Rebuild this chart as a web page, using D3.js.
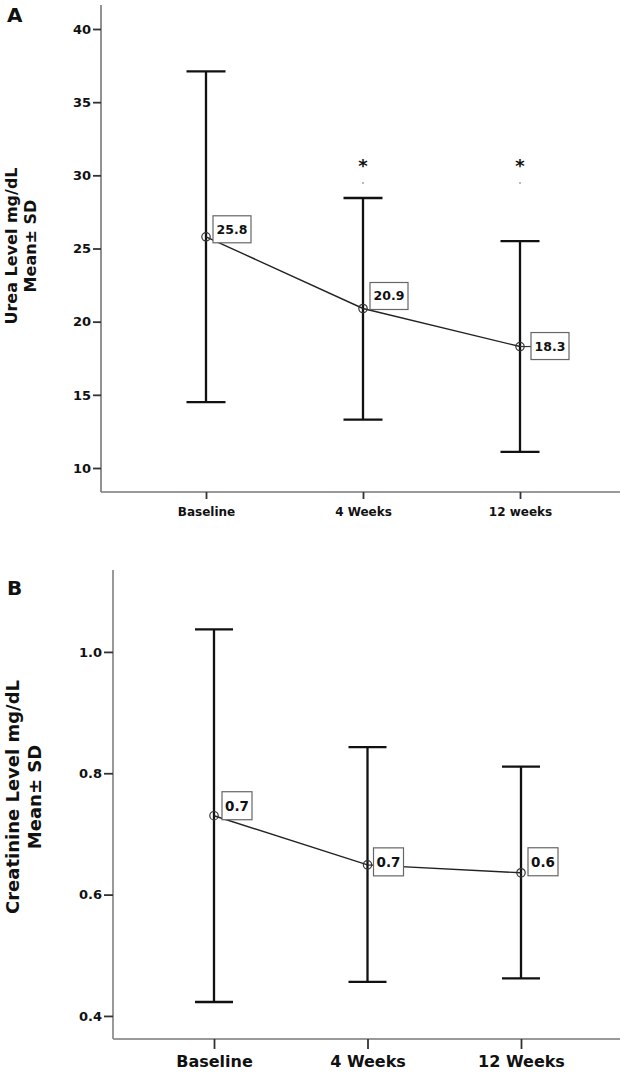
<!DOCTYPE html>
<html><head><meta charset="utf-8">
<script src="https://cdn.jsdelivr.net/npm/d3@7"></script>
<style>
body{margin:0;background:#fff;}
svg{display:block;}
text{font-family:"DejaVu Sans",sans-serif;font-weight:bold;fill:#111;}
</style></head>
<body>
<svg id="chart" width="630" height="1075"></svg>
<script>
// ---------- data ----------
const categoriesA = ["Baseline", "4 Weeks", "12 weeks"];
const ureaMean = [25.8, 20.9, 18.3];
const ureaLow  = [14.5, 13.3, 11.1];
const ureaHigh = [37.1, 28.45, 25.5];
const ureaLabels = ["25.8", "20.9", "18.3"];
const ureaSignif = [false, true, true];
const ureaTicks = [10, 15, 20, 25, 30, 35, 40];

const categoriesB = ["Baseline", "4 Weeks", "12 Weeks"];
const creatMean = [0.73, 0.649, 0.636];
const creatLow  = [0.423, 0.456, 0.462];
const creatHigh = [1.037, 0.843, 0.811];
const creatLabels = ["0.7", "0.7", "0.6"];
const creatTicks = [0.4, 0.6, 0.8, 1.0];

// ---------- layout (styling only) ----------
const svg = d3.select("#chart");

function panel(cfg){
  const g = svg.append("g");
  const x = d3.scalePoint().domain(cfg.cats).range(cfg.xRange);
  const y = d3.scaleLinear().domain(cfg.yDomain).range(cfg.yRange);
  const y0 = cfg.yRange[0], y1 = cfg.yRange[1];

  // axes lines
  g.append("line").attr("x1", cfg.axisX).attr("x2", cfg.axisX).attr("y1", y1).attr("y2", y0)
    .attr("stroke", cfg.axisColor).attr("stroke-width", cfg.axisW);
  g.append("line").attr("x1", cfg.axisX).attr("x2", cfg.axisRight).attr("y1", y0).attr("y2", y0)
    .attr("stroke", cfg.axisColor).attr("stroke-width", cfg.axisW);

  // y axis ticks
  const ya = g.append("g").attr("transform", `translate(${cfg.axisX},0)`)
    .call(d3.axisLeft(y).tickValues(cfg.ticks).tickFormat(cfg.fmt).tickSize(cfg.tickLen).tickPadding(2));
  ya.select(".domain").remove();
  ya.selectAll(".tick line").attr("stroke", "#333").attr("stroke-width", 1.8);
  ya.selectAll(".tick text").attr("font-size", cfg.tickFont).attr("font-family", "DejaVu Sans").attr("font-weight", "bold").attr("fill", "#222");

  // x axis ticks
  const xa = g.append("g").attr("transform", `translate(0,${y0})`)
    .call(d3.axisBottom(x).tickSize(cfg.xTickLen).tickPadding(cfg.xPad));
  xa.select(".domain").remove();
  xa.selectAll(".tick line").attr("stroke", "#333").attr("stroke-width", 1.8);
  xa.selectAll(".tick text").attr("font-size", cfg.xFont).attr("font-family", "DejaVu Sans").attr("font-weight", "bold").attr("fill", "#222");

  const idx = cfg.cats.map((c,i)=>i);
  // error bars
  g.selectAll(".eb").data(idx).join("line")
    .attr("x1", i=>x(cfg.cats[i])).attr("x2", i=>x(cfg.cats[i]))
    .attr("y1", i=>y(cfg.high[i])).attr("y2", i=>y(cfg.low[i]))
    .attr("stroke", "#111").attr("stroke-width", 2.3);
  [cfg.high, cfg.low].forEach(arr=>{
    g.selectAll(null).data(idx).join("line")
      .attr("x1", i=>x(cfg.cats[i]) - cfg.capHalf).attr("x2", i=>x(cfg.cats[i]) + cfg.capHalf)
      .attr("y1", i=>y(arr[i])).attr("y2", i=>y(arr[i]))
      .attr("stroke", "#111").attr("stroke-width", 2.3);
  });

  // mean line
  const line = d3.line().x(i=>x(cfg.cats[i])).y(i=>y(cfg.mean[i]));
  g.append("path").datum(idx).attr("d", line).attr("fill", "none").attr("stroke", "#222").attr("stroke-width", 1.4);

  // label boxes
  idx.forEach(i=>{
    const px = x(cfg.cats[i]), py = y(cfg.mean[i]);
    const o = cfg.lab[i];
    if (o.conn) g.append("line").attr("x1", px).attr("x2", px + o.dx).attr("y1", py).attr("y2", py)
      .attr("stroke", "#333").attr("stroke-width", 1.2);
    g.append("rect").attr("x", px + o.dx).attr("y", py + o.dy).attr("width", cfg.boxW).attr("height", cfg.boxH)
      .attr("fill", "#fff").attr("stroke", "#666").attr("stroke-width", 1.2);
    g.append("text").attr("x", px + o.dx + cfg.boxW/2).attr("y", py + o.dy + cfg.boxH/2)
      .attr("text-anchor", "middle").attr("dominant-baseline", "central")
      .attr("font-size", cfg.labFont).text(cfg.labels[i]);
  });

  // markers
  g.selectAll(".pt").data(idx).join("circle")
    .attr("cx", i=>x(cfg.cats[i])).attr("cy", i=>y(cfg.mean[i])).attr("r", 4.2)
    .attr("fill", "none").attr("stroke", "#333").attr("stroke-width", 1.2);

  // significance marks
  if (cfg.signif){
    idx.filter(i=>cfg.signif[i]).forEach(i=>{
      const px = x(cfg.cats[i]);
      g.append("text").attr("x", px).attr("y", cfg.starY).attr("text-anchor", "middle")
        .attr("font-size", 18).attr("font-family", "Liberation Serif").attr("font-weight", "bold").text("*");
      g.append("circle").attr("cx", px).attr("cy", cfg.starY + 11).attr("r", 0.9).attr("fill", "#999");
    });
  }

  // y title
  const t = g.append("text").attr("transform", `translate(${cfg.titleX},${cfg.titleY}) rotate(-90)`)
    .attr("text-anchor", "middle").attr("font-size", cfg.titleFont);
  t.append("tspan").attr("x", 0).attr("dy", 0).text(cfg.title1);
  t.append("tspan").attr("x", 0).attr("dy", cfg.titleFont * 1.2).text(cfg.title2);

  // panel letter
  g.append("text").attr("x", 7).attr("y", cfg.letterY).attr("font-family", "Liberation Sans")
    .attr("font-size", 20).text(cfg.letter);
}

panel({
  cats: categoriesA, mean: ureaMean, low: ureaLow, high: ureaHigh, labels: ureaLabels, signif: ureaSignif,
  ticks: ureaTicks, fmt: d3.format("d"),
  xRange: [206, 520], yDomain: [8.36, 41.64], yRange: [492, 5],
  axisX: 101, axisRight: 620, axisColor: "#777", axisW: 1.6,
  tickLen: 8, tickFont: 13, xTickLen: 7, xPad: 8, xFont: 12,
  capHalf: 19.5, boxW: 38, boxH: 27, labFont: 12.5,
  lab: [{dx: 7, dy: -21}, {dx: 7, dy: -26}, {dx: 11, dy: -14, conn: true}],
  starY: 172,
  title1: "Urea Level mg/dL", title2: "Mean\u00B1 SD", titleX: 17, titleY: 246, titleFont: 16,
  letter: "A", letterY: 22
});

panel({
  cats: categoriesB, mean: creatMean, low: creatLow, high: creatHigh, labels: creatLabels, signif: null,
  ticks: creatTicks, fmt: d3.format(".1f"),
  xRange: [214, 521], yDomain: [0.362, 1.135], yRange: [1039, 570],
  axisX: 113, axisRight: 620, axisColor: "#999", axisW: 2,
  tickLen: 9, tickFont: 13, xTickLen: 10, xPad: 7, xFont: 16,
  capHalf: 19, boxW: 30, boxH: 28, labFont: 13.5,
  lab: [{dx: 8, dy: -24}, {dx: 6, dy: -17}, {dx: 7, dy: -25}],
  title1: "Creatinine Level mg/dL", title2: "Mean\u00B1 SD", titleX: 19, titleY: 797, titleFont: 18,
  letter: "B", letterY: 595
});
</script>
</body></html>
